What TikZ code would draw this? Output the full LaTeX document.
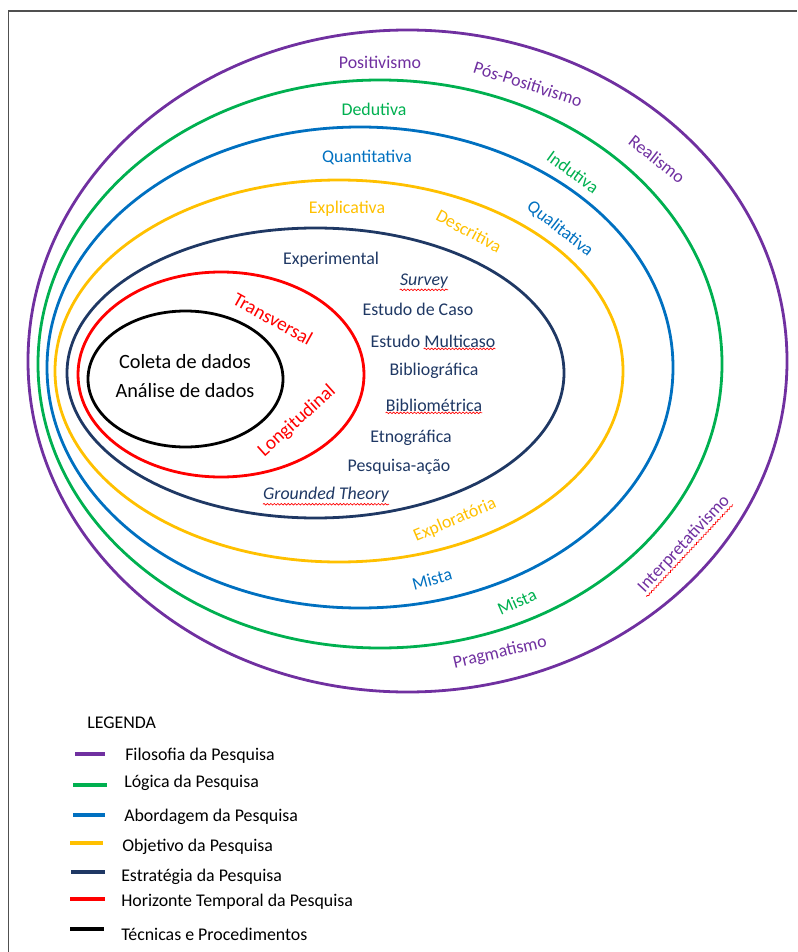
\documentclass[tikz,border=0pt]{standalone}
\usepackage{fontspec}
\setmainfont{Carlito}
\usepackage{tikz}
\usetikzlibrary{decorations.pathmorphing}
\definecolor{filosofia}{HTML}{7030A0}
\definecolor{logica}{HTML}{00B050}
\definecolor{abordagem}{HTML}{0070C0}
\definecolor{objetivo}{HTML}{FFC000}
\definecolor{estrategia}{HTML}{1F3864}
\definecolor{horizonte}{HTML}{FF0000}
\definecolor{moldura}{HTML}{505050}

\begin{document}
\begin{tikzpicture}[x=0.75pt,y=-0.75pt,
  ring/.style={line width=2.1pt},
  lbl/.style={font=\fontsize{13.4}{16}\selectfont,inner sep=0pt},
  big/.style={font=\fontsize{15.2}{18}\selectfont,inner sep=0pt},
  keyline/.style={line width=2.3pt},
  squiggle/.style={horizonte,line width=0.5pt,decorate,
    decoration={snake,amplitude=0.6pt,segment length=2.6pt}}]
\useasboundingbox (0,0) rectangle (797,952);
\draw[moldura,line width=1.3pt] (8.5,952) -- (8.5,11) -- (797,11);
% circles, outer to inner
\draw[ring,filosofia] (407.5,361) ellipse [x radius=379.5,y radius=331];
\draw[ring,logica] (380,364) ellipse [x radius=342,y radius=284];
\draw[ring,abordagem] (360,367.5) ellipse [x radius=313,y radius=240.5];
\draw[ring,objetivo] (339,371) ellipse [x radius=284,y radius=191];
\draw[ring,estrategia] (315.5,373) ellipse [x radius=248.5,y radius=145];
\draw[ring,horizonte] (221,374.5) ellipse [x radius=143,y radius=102.5];
\draw[ring,black] (185.5,379) ellipse [x radius=97.5,y radius=68];
% filosofia
\node[lbl,filosofia] (positivismo) at (380,62) {Positivismo};
\node[lbl,filosofia,rotate=-18] (pospositivismo) at (528,84) {Pós-Positivismo};
\node[lbl,filosofia,rotate=-38] (realismo) at (657,159) {Realismo};
\node[lbl,filosofia,rotate=47] (interpretativismo) at (684,544) {Interpretativismo};
\node[lbl,filosofia,rotate=13] (pragmatismo) at (500,653) {Pragmatismo};
% logica
\node[lbl,logica] (dedutiva) at (374,109) {Dedutiva};
\node[lbl,logica,rotate=-36] (indutiva) at (573,172) {Indutiva};
\node[lbl,logica,rotate=24] (mistaL) at (517,602) {Mista};
% abordagem
\node[lbl,abordagem] (quantitativa) at (367,158) {Quantitativa};
\node[lbl,abordagem,rotate=-38] (qualitativa) at (560,229) {Qualitativa};
\node[lbl,abordagem,rotate=15] (mistaA) at (432,579) {Mista};
% objetivo
\node[lbl,objetivo] (explicativa) at (347,209) {Explicativa};
\node[lbl,objetivo,rotate=-28] (descritiva) at (469,231) {Descritiva};
\node[lbl,objetivo,rotate=23] (exploratoria) at (455,520) {Exploratória};
% estrategia
\node[lbl,estrategia] (experimental) at (331,260) {Experimental};
\node[lbl,estrategia,font=\fontsize{13.4}{16}\selectfont\itshape] (survey) at (424,281) {Survey};
\node[lbl,estrategia] (caso) at (418,309) {Estudo de Caso};
\node[lbl,estrategia] (multicaso) at (433,341) {Estudo Multicaso};
\node[lbl,estrategia] (bibliografica) at (434,371) {Bibliográfica};
\node[lbl,estrategia] (bibliometrica) at (434,405) {Bibliométrica};
\node[lbl,estrategia] (etnografica) at (411,438) {Etnográfica};
\node[lbl,estrategia] (pesquisaacao) at (399,467) {Pesquisa-ação};
\node[lbl,estrategia,font=\fontsize{13.4}{16}\selectfont\itshape] (grounded) at (326,495) {Grounded Theory};
% horizonte temporal
\node[lbl,horizonte,rotate=-29,font=\fontsize{14.5}{17}\selectfont] (transversal) at (273,319) {Transversal};
\node[lbl,horizonte,rotate=42,font=\fontsize{14.5}{17}\selectfont] (longitudinal) at (297,421) {Longitudinal};
% tecnicas
\node[big] (coleta) at (185,362) {Coleta de dados};
\node[big] (analise) at (185,391) {Análise de dados};
% spell check marks
\draw[squiggle] ([yshift=-1pt]survey.south west) -- ([yshift=-1pt]survey.south east);
\draw[squiggle] ([xshift=40pt,yshift=-1pt]multicaso.south west) -- ([yshift=-1pt]multicaso.south east);
\draw[squiggle] ([yshift=-1pt]bibliometrica.south west) -- ([yshift=-1pt]bibliometrica.south east);
\draw[squiggle] ([yshift=-1pt]grounded.south west) -- ([yshift=-1pt]grounded.south east);
\draw[squiggle] ([yshift=-1pt]interpretativismo.south west) -- ([yshift=-1pt]interpretativismo.south east);
% legenda
\node[lbl,anchor=west] (legenda) at (87,723) {LEGENDA};
\draw[keyline,filosofia] (75,754) -- (105,754);
\node[lbl,anchor=west] (kfilosofia) at (125,756) {Filosofia da Pesquisa};
\draw[keyline,logica] (73,785) -- (107,785);
\node[lbl,anchor=west] (klogica) at (124,783) {Lógica da Pesquisa};
\draw[keyline,abordagem] (73,815) -- (105,815);
\node[lbl,anchor=west] (kabordagem) at (124,817) {Abordagem da Pesquisa};
\draw[keyline,objetivo] (70,843) -- (103,843);
\node[lbl,anchor=west] (kobjetivo) at (122,847) {Objetivo da Pesquisa};
\draw[keyline,estrategia] (71,872) -- (105,872);
\node[lbl,anchor=west] (kestrategia) at (121,877) {Estratégia da Pesquisa};
\draw[keyline,horizonte] (70,899) -- (105,899);
\node[lbl,anchor=west] (khorizonte) at (121,902) {Horizonte Temporal da Pesquisa};
\draw[keyline,black] (70,929) -- (104,929);
\node[lbl,anchor=west] (ktecnicas) at (121,934) {Técnicas e Procedimentos};
\end{tikzpicture}
\end{document}
